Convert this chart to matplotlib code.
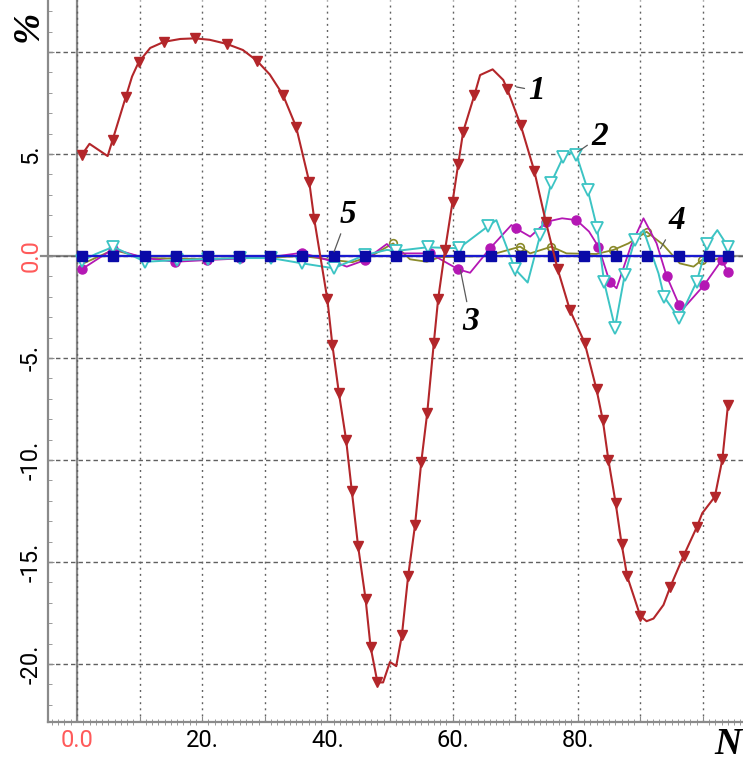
import matplotlib.pyplot as plt
from matplotlib.ticker import MultipleLocator

# curve 1 (red, filled triangles); k = 1 where a marker is drawn
n1 = [0.75, 2.0, 4.9, 5.7, 7.8, 8.8, 9.85, 11.7, 13.9, 16.5, 18.85, 21.2, 23.9, 26.5,
      28.75, 30.8, 32.9, 35.0, 37.1, 37.9, 40.0, 40.8, 41.85, 43.0, 43.9, 44.9, 46.1,
      46.9, 48.0, 48.9, 50.0, 51.0, 51.9, 52.9, 54.0, 55.0, 55.95, 57.0, 57.7, 58.8,
      60.0, 60.9, 61.7, 63.5, 64.4, 66.4, 68.1, 68.75, 70.9, 73.05, 74.9, 76.8, 78.75,
      81.1, 83.0, 84.0, 84.9, 86.05, 87.0, 87.9, 90.0, 91.0, 92.1, 93.7, 94.8, 96.9,
      99.0, 99.9, 101.9, 103.1, 104.0]
v1 = [4.95, 5.5, 4.9, 5.7, 7.8, 8.8, 9.5, 10.2, 10.5, 10.64, 10.67, 10.6, 10.4, 10.1,
      9.57, 8.9, 7.9, 6.34, 3.64, 1.81, -2.12, -4.36, -6.73, -9.02, -11.5, -14.2, -16.8,
      -19.15, -20.9, -20.9, -19.9, -20.1, -18.6, -15.7, -13.2, -10.1, -7.7, -4.28, -2.1, 0.3,
      2.66, 4.5, 6.1, 7.9, 8.87, 9.15, 8.63, 8.17, 6.4, 4.18, 1.68, -0.65, -2.65,
      -4.25, -6.54, -8.04, -10.0, -12.1, -14.1, -15.7, -17.65, -17.9, -17.77, -17.1, -16.2, -14.7,
      -13.3, -12.6, -11.8, -9.97, -7.3]
k1 = [1, 0, 0, 1, 1, 0, 1, 0, 1, 0, 1, 0, 1, 0,
      1, 0, 1, 1, 1, 1, 1, 1, 1, 1, 1, 1, 1,
      1, 1, 0, 0, 0, 1, 1, 1, 1, 1, 1, 1, 1,
      1, 1, 1, 1, 0, 0, 0, 1, 1, 1, 1, 1, 1,
      1, 1, 1, 1, 1, 1, 1, 1, 0, 0, 0, 1, 1,
      1, 0, 1, 1, 1]

# curve 2 (cyan, open triangles)
n2 = [0.75, 3.0, 5.8, 10.9, 15.9, 20.9, 26.0, 31.0, 36.0, 41.0, 46.0, 49.5, 51.0, 56.0,
      61.0, 65.7, 67.0, 70.0, 72.0, 74.0, 75.7, 77.7, 78.75, 79.8, 81.6, 83.1, 84.2,
      85.95, 87.5, 89.1, 90.5, 92.9, 93.8, 96.2, 99.0, 100.7, 102.3, 104.0]
v2 = [-0.25, 0.1, 0.45, -0.28, -0.2, -0.15, -0.1, -0.1, -0.36, -0.6, 0.05, 0.3, 0.25, 0.43,
      0.38, 1.47, 1.76, -0.65, -1.3, 1.03, 3.56, 4.87, 5.06, 4.95, 3.24, 1.36, -1.26,
      -3.51, -0.93, 0.78, 1.27, -0.85, -2.0, -3.06, -1.26, 0.59, 1.27, 0.46]
k2 = [1, 0, 1, 1, 1, 1, 1, 1, 1, 1, 1, 0, 1, 1,
      1, 1, 0, 1, 0, 1, 1, 1, 0, 1, 1, 1, 1,
      1, 1, 1, 0, 0, 1, 1, 1, 1, 0, 1]

# curve 3 (magenta, filled circles)
n3 = [0.75, 5.8, 10.9, 15.7, 20.7, 26.0, 31.0, 35.9, 41.0, 43.1, 46.0, 49.5, 51.1, 56.4,
      60.9, 62.8, 66.0, 69.4, 70.1, 72.4, 75.0, 77.5, 79.8, 81.8, 83.3, 85.1, 86.2,
      88.5, 90.5, 92.6, 94.2, 96.2, 96.9, 100.2, 103.0, 104.0]
v3 = [-0.65, 0.35, -0.1, -0.28, -0.2, -0.12, -0.05, 0.16, -0.28, -0.52, -0.2, 0.59, 0.13, 0.13,
      -0.65, -0.82, 0.38, 1.52, 1.36, 0.95, 1.68, 1.85, 1.76, 1.2, 0.46, -1.26, -1.58,
      0.5, 1.85, 0.62, -0.98, -2.4, -2.56, -1.42, -0.2, -0.77]
k3 = [1, 1, 1, 1, 1, 1, 1, 1, 1, 0, 1, 0, 1, 1,
      1, 0, 1, 0, 1, 0, 1, 0, 1, 0, 1, 1, 0,
      0, 0, 0, 1, 1, 0, 1, 1, 1]

# curve 4 (olive, small open circles)
n4 = [0.75, 5.8, 10.9, 20.0, 30.0, 36.0, 41.0, 44.0, 47.0, 50.5, 53.2, 55.9, 58.0, 65.4,
      70.8, 72.4, 75.8, 78.2, 83.0, 85.7, 88.1, 91.0, 93.7, 96.3, 98.5, 99.8, 101.6, 104.0]
v4 = [-0.4, 0.3, -0.1, -0.15, -0.08, 0.0, -0.2, -0.3, 0.0, 0.62, -0.16, -0.28, -0.05, 0.0,
      0.46, 0.13, 0.46, 0.13, 0.1, 0.3, 0.62, 1.19, 0.54, -0.36, -0.52, -0.2, -0.2, 0.0]
k4 = [0, 0, 0, 0, 0, 0, 0, 0, 0, 1, 0, 0, 0, 0,
      1, 0, 1, 0, 0, 1, 0, 1, 0, 0, 0, 1, 0, 0]

# curve 5 (blue, squares)
n5 = [0.75, 5.8, 10.9, 15.8, 20.9, 25.9, 30.9, 36.0, 41.0, 46.0, 51.0, 56.0, 61.0,
      66.1, 71.0, 76.1, 81.0, 86.1, 91.1, 96.1, 101.0, 104.0]
v5 = [0.0] * len(n5)

x_labels = ['0.0', '', '20.', '', '40.', '', '60.', '', '80.', '', '']
y_labels = ['-20.', '-15.', '-10.', '-5.', '0.0', '5.', '']

tick_font = ['Roboto', 'DejaVu Sans']
serif = 'Liberation Serif'


def marks(k):
    return [i for i, f in enumerate(k) if f]


fig = plt.figure(figsize=(7.43, 7.60), dpi=100)
ax = fig.add_axes([48 / 743, 38 / 760, 695 / 743, 722 / 760])
ax.set_xlim(-4.63, 106.4)
ax.set_ylim(-22.84, 12.55)

# grid
ax.set_xticks(range(0, 101, 10))
ax.set_yticks(range(-20, 11, 5))
ax.xaxis.grid(True, color='#606060', lw=1.0, ls=(0, (1.4, 3.0)), zorder=0)
ax.yaxis.grid(True, color='#606060', lw=1.0, ls=(0, (3.2, 2.2)), zorder=0)
ax.axvline(0, color='#8a8a8a', lw=1.6, zorder=1)
ax.axhline(0, xmin=-0.01, color='#8a8a8a', lw=1.6, zorder=1, clip_on=False)

for s in ['top', 'right']:
    ax.spines[s].set_visible(False)
for s in ['left', 'bottom']:
    ax.spines[s].set_color('#8a8a8a')
    ax.spines[s].set_linewidth(1.6)

ax.xaxis.set_minor_locator(MultipleLocator(1))
ax.yaxis.set_minor_locator(MultipleLocator(1))
ax.tick_params(axis='both', which='major', direction='in', length=4, color='#8a8a8a')
ax.tick_params(axis='x', which='minor', direction='inout', length=4, color='#8a8a8a')
ax.tick_params(axis='y', which='minor', direction='in', length=3, color='#8a8a8a')
ax.tick_params(axis='x', pad=5)
ax.tick_params(axis='y', pad=4)

ax.set_xticklabels(x_labels, fontsize=17, family=tick_font)
ax.set_yticklabels(y_labels, fontsize=17, family=tick_font, rotation=90, va='center')
ax.get_xticklabels()[0].set_color('#ff5a5a')
ax.get_yticklabels()[4].set_color('#ff5a5a')

# curves
ax.plot(n4, v4, color='#8a8a2a', lw=1.3, marker='o', ms=5.5, mfc='none', mew=1.2,
        markevery=marks(k4), zorder=3)
ax.plot(n3, v3, color='#b417b4', lw=1.3, marker='o', ms=6.5, markevery=marks(k3), zorder=4)
ax.plot(n2, v2, color='#3cc4c4', lw=1.4, marker='v', ms=8.5, mfc='white', mew=1.3,
        markevery=marks(k2), zorder=5)
ax.plot(n5, v5, color='#1a1ad0', lw=1.6, marker='s', ms=7, mfc='#0a0aa8', mec='#0a0aa8',
        zorder=6)
ax.plot(n1, v1, color='#b3262a', lw=1.5, marker='v', ms=7.5, markevery=marks(k1), zorder=7)

# curve labels
lab = dict(fontsize=24, family=serif, fontweight='bold', fontstyle='italic',
           ha='center', va='center', zorder=8)
arr = dict(arrowstyle='-', color='#5a5a5a', lw=0.9, shrinkA=1, shrinkB=1)
ax.annotate('1', xy=(70.0, 8.3), xytext=(73.5, 8.1), arrowprops=arr, **lab)
ax.annotate('2', xy=(79.8, 5.06), xytext=(83.5, 5.85), arrowprops=arr, **lab)
ax.annotate('3', xy=(61.2, -0.6), xytext=(62.9, -3.2), arrowprops=arr, **lab)
ax.annotate('4', xy=(93.1, 0.3), xytext=(95.8, 1.75), arrowprops=arr, **lab)
ax.annotate('5', xy=(41.0, 0.15), xytext=(43.3, 2.05), arrowprops=arr, **lab)

fig.text(28 / 743, 1 - 26 / 760, '%', rotation=90, fontsize=27, family=serif,
         fontweight='bold', fontstyle='italic', ha='center', va='center')
fig.text(741 / 743, 1 - 744 / 760, 'N', fontsize=27, family=serif,
         fontweight='bold', fontstyle='italic', ha='right', va='center')

fig.savefig('out.png', dpi=100)
